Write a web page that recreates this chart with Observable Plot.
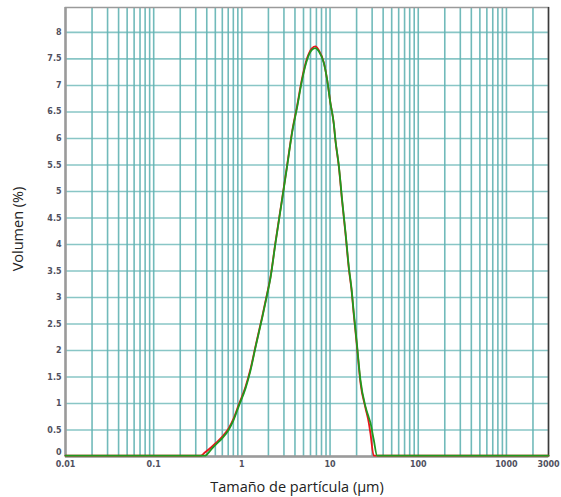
<!DOCTYPE html>
<html>
<head>
<meta charset="utf-8">
<script src="https://cdn.jsdelivr.net/npm/d3@7"></script>
<script src="https://cdn.jsdelivr.net/npm/@observablehq/plot@0.6"></script>
<style>
  html, body { margin: 0; padding: 0; background: #fff; }
</style>
</head>
<body>
<div id="chart"></div>
<script>
// Particle size (µm)
const sizes = [0.01, 0.34, 0.38, 0.45, 0.5, 0.6, 0.71, 0.8, 0.92, 1.1, 1.25, 1.43, 1.7, 1.94, 2.1, 2.4, 2.86, 3.26, 3.71, 4.23, 4.82, 5.49, 6.26, 6.83, 7.45, 8.49, 9.27, 10.1, 11.0, 11.5, 12.6, 13.7, 15.0, 16.3, 17.5, 18.6, 20.3, 22.1, 25.2, 27.5, 28.7, 31.3, 34.2, 3000];
// Volume (%) — red series
const redVol = [0, 0, 0.06, 0.16, 0.23, 0.36, 0.52, 0.69, 0.96, 1.3, 1.63, 2.07, 2.62, 3.07, 3.35, 4.02, 4.85, 5.48, 6.11, 6.6, 7.12, 7.5, 7.69, 7.72, 7.65, 7.42, 7.09, 6.65, 6.27, 5.95, 5.44, 4.8, 4.17, 3.54, 3.13, 2.65, 2.02, 1.38, 0.9, 0.62, 0.42, 0, 0, 0];
// Volume (%) — green series
const greenVol = [0, 0, 0, 0.12, 0.2, 0.33, 0.49, 0.66, 0.93, 1.27, 1.6, 2.05, 2.6, 3.05, 3.33, 4.0, 4.83, 5.46, 6.09, 6.57, 7.09, 7.47, 7.66, 7.69, 7.63, 7.41, 7.09, 6.65, 6.28, 5.96, 5.46, 4.83, 4.2, 3.57, 3.16, 2.69, 2.06, 1.43, 0.93, 0.72, 0.62, 0.3, 0, 0];

// Tick labels
const xTickValues = [0.01, 0.1, 1, 10, 100, 1000, 3000];
const xTickLabels = ["0.01", "0.1", "1", "10", "100", "1000", "3000"];
const yTickValues = [0, 0.5, 1, 1.5, 2, 2.5, 3, 3.5, 4, 4.5, 5, 5.5, 6, 6.5, 7, 7.5, 8];
const yTickLabels = ["0", "0.5", "1", "1.5", "2", "2.5", "3", "3.5", "4", "4.5", "5", "5.5", "6", "6.5", "7", "7.5", "8"];

// Log grid positions: 1..9 × 10^k
const xGrid = [];
for (let k = -2; k <= 3; k++) {
  for (let m = 1; m <= 9; m++) {
    const v = m * Math.pow(10, k);
    if (v > 0.01 && v < 3000) xGrid.push(+v.toPrecision(6));
  }
}
const yGrid = yTickValues.filter(v => v > 0);

const gridColor = "#62b3b3";
const labelColor = "#50505e";
const tickFont = { fill: labelColor, fontSize: 8, fontWeight: "bold", fontFamily: "DejaVu Sans" };

const chart = Plot.plot({
  width: 561,
  height: 497,
  marginLeft: 65,
  marginRight: 13,
  marginTop: 7,
  marginBottom: 41,
  style: { fontFamily: "DejaVu Sans", background: "#fff" },
  x: { type: "log", domain: [0.01, 3000], axis: null },
  y: { domain: [0, 8.47], axis: null },
  marks: [
    Plot.ruleX(xGrid, { stroke: gridColor, strokeWidth: 1.6, strokeOpacity: 0.9 }),
    Plot.ruleY(yGrid, { stroke: gridColor, strokeWidth: 1.6, strokeOpacity: 0.75 }),
    Plot.frame({ stroke: "#9a9a9a", strokeWidth: 1.5 }),
    Plot.ruleY([0], { stroke: "#9a9a9a", strokeWidth: 2.5 }),
    Plot.ruleX([0.01], { stroke: "#9a9a9a", strokeWidth: 2.5 }),
    Plot.ruleX([3000], { stroke: "#3a3a3a", strokeWidth: 1.5 }),
    Plot.line(sizes, { x: sizes, y: redVol, stroke: "#e8161b", strokeWidth: 1.8, dy: -0.8, curve: "monotone-x" }),
    Plot.line(sizes, { x: sizes, y: greenVol, stroke: "#1f9a1f", strokeWidth: 1.8, dy: -0.8, curve: "monotone-x" }),
    Plot.text(xTickValues, {
      x: d => d, text: (d, i) => xTickLabels[i], frameAnchor: "bottom", lineAnchor: "middle", dy: 8, ...tickFont
    }),
    Plot.text(yTickValues.slice(1), {
      y: d => d, text: (d, i) => yTickLabels[i + 1], frameAnchor: "left", dx: -4, textAnchor: "end", ...tickFont
    }),
    Plot.text([yTickValues[0]], {
      y: d => d, text: () => yTickLabels[0], frameAnchor: "left", dx: -4, dy: -4, textAnchor: "end", ...tickFont
    }),
    Plot.text(["Tamaño de partícula (µm)"], {
      frameAnchor: "bottom", lineAnchor: "middle", textAnchor: "middle", dx: -10, dy: 31,
      fill: "#222", fontSize: 14.5, fontFamily: "Open Sans"
    }),
    Plot.text(["Volumen (%)"], {
      frameAnchor: "left", textAnchor: "middle", lineAnchor: "middle", dx: -47, dy: -3, rotate: -90,
      fill: "#222", fontSize: 14.5, fontFamily: "Open Sans"
    })
  ]
});
document.getElementById("chart").appendChild(chart);
</script>
</body>
</html>
